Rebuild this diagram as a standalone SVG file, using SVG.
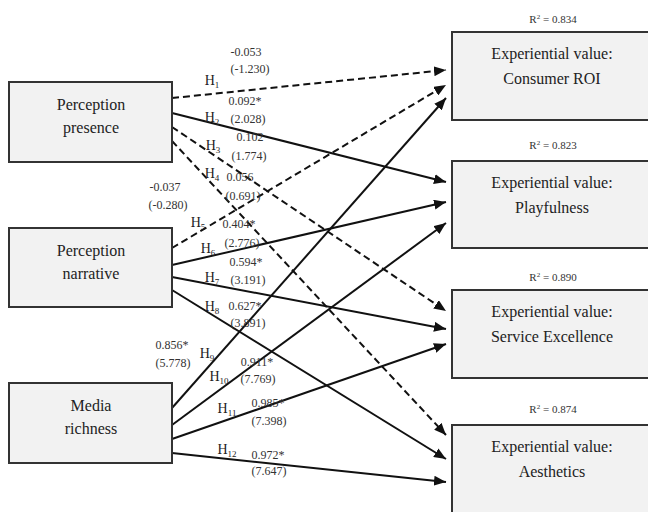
<svg xmlns="http://www.w3.org/2000/svg" width="648" height="512" viewBox="0 0 648 512">
<defs>
<style>
.box{fill:#f2f2f2;stroke:#333;stroke-width:2}
.lbl{font-family:"Liberation Serif","Times New Roman",serif;font-size:16px;fill:#222;text-anchor:middle}
.num{font-family:"Liberation Serif","Times New Roman",serif;font-size:12px;fill:#333;text-anchor:middle}
.h{font-family:"Liberation Serif","Times New Roman",serif;font-size:14px;fill:#222;text-anchor:middle}
.r2{font-family:"Liberation Serif","Times New Roman",serif;font-size:11px;fill:#333;text-anchor:middle}
.ln{stroke:#111;stroke-width:2;fill:none;marker-end:url(#ah)}
.ds{stroke-dasharray:7 4}
</style>
<marker id="ah" markerUnits="userSpaceOnUse" markerWidth="12" markerHeight="10" refX="12" refY="5" orient="auto">
<path d="M0,0 L12,5 L0,10 Z" fill="#111"/>
</marker>
</defs>
<rect width="648" height="512" fill="#fff"/>
<g id="connectors">
<line class="ln ds" x1="172" y1="98" x2="446" y2="70"/>
<line class="ln" x1="172" y1="113" x2="446" y2="182"/>
<line class="ln ds" x1="172" y1="127" x2="446" y2="311"/>
<line class="ln ds" x1="172" y1="141" x2="446" y2="435"/>
<line class="ln ds" x1="172" y1="248" x2="446" y2="85"/>
<line class="ln" x1="172" y1="265" x2="446" y2="202"/>
<line class="ln" x1="172" y1="277" x2="446" y2="329"/>
<line class="ln" x1="172" y1="290" x2="446" y2="459"/>
<line class="ln" x1="172" y1="408" x2="446" y2="98"/>
<line class="ln" x1="172" y1="425" x2="446" y2="223"/>
<line class="ln" x1="172" y1="439" x2="446" y2="344"/>
<line class="ln" x1="172" y1="453" x2="446" y2="482"/>
</g>
<g id="n-presence">
<rect class="box" x="9" y="82" width="163" height="80"/>
<text class="lbl" x="91" y="109.5">Perception</text>
<text class="lbl" x="91" y="132.5">presence</text>
</g>
<g id="n-narrative">
<rect class="box" x="9" y="228" width="163" height="79"/>
<text class="lbl" x="91" y="255.5">Perception</text>
<text class="lbl" x="91" y="278.5">narrative</text>
</g>
<g id="n-media">
<rect class="box" x="9" y="383" width="163" height="80"/>
<text class="lbl" x="91" y="410.5">Media</text>
<text class="lbl" x="91" y="433.5">richness</text>
</g>
<g id="n-roi">
<rect class="box" x="452" y="32" width="210" height="88"/>
<text class="lbl" x="552" y="58.5">Experiential value:</text>
<text class="lbl" x="552" y="83.5">Consumer ROI</text>
<text class="r2" x="553" y="23">R<tspan dy="-4" font-size="7">2</tspan><tspan dy="4"> = 0.834</tspan></text>
</g>
<g id="n-play">
<rect class="box" x="452" y="161" width="210" height="87"/>
<text class="lbl" x="552" y="187.5">Experiential value:</text>
<text class="lbl" x="552" y="212.5">Playfulness</text>
<text class="r2" x="553" y="149">R<tspan dy="-4" font-size="7">2</tspan><tspan dy="4"> = 0.823</tspan></text>
</g>
<g id="n-service">
<rect class="box" x="452" y="290" width="210" height="88"/>
<text class="lbl" x="552" y="316.5">Experiential value:</text>
<text class="lbl" x="552" y="341.5">Service Excellence</text>
<text class="r2" x="553" y="281">R<tspan dy="-4" font-size="7">2</tspan><tspan dy="4"> = 0.890</tspan></text>
</g>
<g id="n-aesthetics">
<rect class="box" x="452" y="425" width="210" height="88"/>
<text class="lbl" x="552" y="451.5">Experiential value:</text>
<text class="lbl" x="552" y="476.5">Aesthetics</text>
<text class="r2" x="553" y="413">R<tspan dy="-4" font-size="7">2</tspan><tspan dy="4"> = 0.874</tspan></text>
</g>
<g id="labels">
<text class="num" x="246" y="56">-0.053</text>
<text class="num" x="250" y="73">(-1.230)</text>
<text class="h" x="212" y="85">H<tspan dy="3" font-size="9">1</tspan></text>
<text class="num" x="245" y="105">0.092*</text>
<text class="num" x="248" y="123">(2.028)</text>
<text class="h" x="212" y="122">H<tspan dy="3" font-size="9">2</tspan></text>
<text class="num" x="250" y="141">0.102</text>
<text class="num" x="249" y="160">(1.774)</text>
<text class="h" x="213" y="150">H<tspan dy="3" font-size="9">3</tspan></text>
<text class="h" x="212" y="178">H<tspan dy="3" font-size="9">4</tspan></text>
<text class="num" x="240" y="181">0.056</text>
<text class="num" x="243" y="200">(0.691)</text>
<text class="num" x="165" y="191">-0.037</text>
<text class="num" x="168" y="209">(-0.280)</text>
<text class="h" x="198" y="227">H<tspan dy="3" font-size="9">5</tspan></text>
<text class="num" x="239" y="228">0.404*</text>
<text class="h" x="208" y="253">H<tspan dy="3" font-size="9">6</tspan></text>
<text class="num" x="242" y="247">(2.776)</text>
<text class="num" x="246" y="266">0.594*</text>
<text class="num" x="248" y="284">(3.191)</text>
<text class="h" x="212" y="282">H<tspan dy="3" font-size="9">7</tspan></text>
<text class="h" x="212" y="311">H<tspan dy="3" font-size="9">8</tspan></text>
<text class="num" x="245" y="310">0.627*</text>
<text class="num" x="248" y="327">(3.891)</text>
<text class="num" x="172" y="349">0.856*</text>
<text class="num" x="173" y="367">(5.778)</text>
<text class="h" x="207" y="358">H<tspan dy="3" font-size="9">9</tspan></text>
<text class="h" x="219" y="381">H<tspan dy="3" font-size="9">10</tspan></text>
<text class="num" x="257" y="366">0.911*</text>
<text class="num" x="258" y="383">(7.769)</text>
<text class="h" x="227" y="413">H<tspan dy="3" font-size="9">11</tspan></text>
<text class="num" x="268" y="407">0.985*</text>
<text class="num" x="269" y="425">(7.398)</text>
<text class="h" x="227" y="454">H<tspan dy="3" font-size="9">12</tspan></text>
<text class="num" x="268" y="459">0.972*</text>
<text class="num" x="269" y="475">(7.647)</text>
</g>
</svg>
